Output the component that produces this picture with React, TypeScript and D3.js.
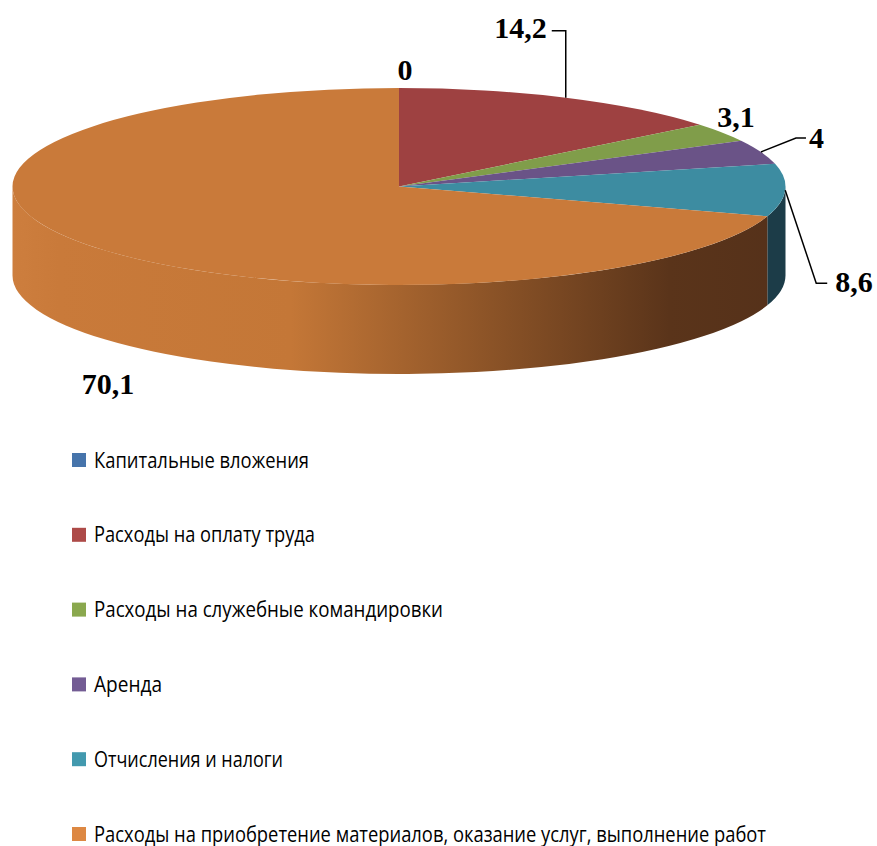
import React from 'react';
import * as d3 from 'd3';

const categories = [
  'Капитальные вложения',
  'Расходы на оплату труда',
  'Расходы на служебные командировки',
  'Аренда',
  'Отчисления и налоги',
  'Расходы на приобретение материалов, оказание услуг, выполнение работ',
];
const values = [0, 14.2, 3.1, 4, 8.6, 70.1];
const valueLabels = ['0', '14,2', '3,1', '4', '8,6', '70,1'];
const topColors = ['#4674ab', '#9e4141', '#809d4a', '#6a5387', '#3d8ca1', '#c97a3a'];
const sideColors = ['#2a4566', '#5a2525', '#4a5c2a', '#3d2f4f', '#1c3c48', 'url(#orangeSide)'];
const legendColors = ['#4674ab', '#ad4a48', '#8aa84e', '#735c94', '#4299ae', '#dd8843'];
const legendWidths = [215, 221, 349, 68, 189, 672];

const W = 877;
const H = 846;
const cx = 399;
const cy = 186.5;
const rx = 386.5;
const ry = 98.5;
const depth = 89;

const pt = (a: number, dy = 0): [number, number] => [cx + rx * Math.sin(a), cy - ry * Math.cos(a) + dy];

const topPath = (a0: number, a1: number) => {
  const p = d3.path();
  const [x0, y0] = pt(a0);
  const [x1, y1] = pt(a1);
  p.moveTo(cx, cy);
  p.lineTo(x0, y0);
  const large = a1 - a0 > Math.PI ? 1 : 0;
  return `${p.toString()} A ${rx} ${ry} 0 ${large} 1 ${x1} ${y1} Z`;
};

const sidePath = (a0: number, a1: number) => {
  const s0 = Math.max(a0, Math.PI / 2);
  const s1 = Math.min(a1, Math.PI * 1.5);
  if (s1 <= s0) return null;
  const [x0, y0] = pt(s0);
  const [x1, y1] = pt(s1);
  const large = s1 - s0 > Math.PI ? 1 : 0;
  return `M ${x0} ${y0} A ${rx} ${ry} 0 ${large} 1 ${x1} ${y1} L ${x1} ${y1 + depth} A ${rx} ${ry} 0 ${large} 0 ${x0} ${y0 + depth} Z`;
};

// label placement relative to the slice mid point: leader elbow / text offsets
type LabelSpec = { leader: [number, number][] | null; tx: number; ty: number; anchor: string };
const labelSpecs: LabelSpec[] = [
  { leader: null, tx: 6, ty: -8, anchor: 'middle' },
  { leader: [[0, -67], [-14, -67]], tx: -19, ty: -60, anchor: 'end' },
  { leader: null, tx: 14, ty: -5, anchor: 'middle' },
  { leader: [[35, -14], [45, -14]], tx: 48, ty: -4, anchor: 'start' },
  { leader: [[31, 93], [42, 93]], tx: 50, ty: 102, anchor: 'start' },
  { leader: null, tx: 21, ty: 149, anchor: 'middle' },
];

const App: React.FC = () => {
  const pie = d3.pie<number>().sort(null).startAngle(0).endAngle(2 * Math.PI);
  const arcs = pie(values);

  const legendScale = d3.scalePoint<string>().domain(categories).range([460, 834]);

  return (
    <svg width={W} height={H} style={{ position: 'absolute', left: 0, top: 0, background: '#fff' }}>
      <defs>
        <linearGradient id="orangeSide" gradientUnits="userSpaceOnUse" x1={cx - rx} x2={cx + rx} y1={0} y2={0}>
          <stop offset="0" stopColor="#cd7e3e" />
          <stop offset="0.06" stopColor="#c97a3a" />
          <stop offset="0.36" stopColor="#c47737" />
          <stop offset="0.62" stopColor="#8b5327" />
          <stop offset="0.85" stopColor="#5a341a" />
          <stop offset="1" stopColor="#55311a" />
        </linearGradient>
      </defs>

      {/* sides */}
      {arcs.map((a, i) => {
        const d = sidePath(a.startAngle, a.endAngle);
        return d ? <path key={`s${i}`} d={d} fill={sideColors[i]} /> : null;
      })}

      {/* top faces */}
      {arcs.map((a, i) =>
        a.endAngle - a.startAngle > 0 ? (
          <path key={`t${i}`} d={topPath(a.startAngle, a.endAngle)} fill={topColors[i]} />
        ) : null
      )}

      {/* data labels */}
      {arcs.map((a, i) => {
        const mid = (a.startAngle + a.endAngle) / 2;
        const [ax, ay] = pt(mid);
        const spec = labelSpecs[i];
        const pts = spec.leader ? [[ax, ay], ...spec.leader.map(([dx, dy]) => [ax + dx, ay + dy])] : null;
        return (
          <g key={`l${i}`}>
            {pts && (
              <polyline
                points={pts.map((p) => p.join(',')).join(' ')}
                fill="none"
                stroke="#000"
                strokeWidth={1.5}
              />
            )}
            <text
              x={ax + spec.tx}
              y={ay + spec.ty}
              textAnchor={spec.anchor}
              fontFamily="'Liberation Serif', 'DejaVu Serif', serif"
              fontWeight="bold"
              fontSize={30}
              fill="#000"
            >
              {valueLabels[i]}
            </text>
          </g>
        );
      })}

      {/* legend */}
      {categories.map((c, i) => {
        const y = legendScale(c) as number;
        return (
          <g key={`g${i}`}>
            <rect x={72} y={y - 7} width={14} height={14} fill={legendColors[i]} />
            <text
              x={94}
              y={y + 7.5}
              fontFamily="'Liberation Sans Narrow', 'Open Sans', sans-serif"
              fontSize={21}
              textLength={legendWidths[i]}
              lengthAdjust="spacingAndGlyphs"
              fill="#000"
            >
              {c}
            </text>
          </g>
        );
      })}
    </svg>
  );
};

export default App;
